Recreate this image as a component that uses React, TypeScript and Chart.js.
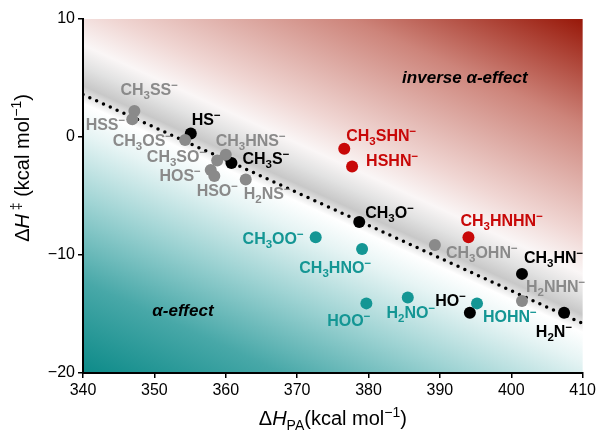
import React, { useEffect, useRef } from "react";
import { Chart, registerables } from "chart.js";

Chart.register(...registerables);

// ---------- data ----------
const xTickValues = [340, 350, 360, 370, 380, 390, 400, 410];
const yTickValues = [-20, -10, 0, 10];

const grayNames = ["CH3SS−", "HSS−", "CH3OS−", "CH3HNS−", "CH3SO−", "HOS−", "HSO−", "H2NS−", "CH3OHN−", "H2NHN−"];
const grayX = [347.2, 346.9, 354.3, 360.0, 358.8, 357.9, 358.4, 362.8, 389.3, 401.5];
const grayY = [2.2, 1.5, -0.25, -1.5, -2.0, -2.8, -3.3, -3.6, -9.15, -13.9];

const blackNames = ["HS−", "CH3S−", "CH3O−", "CH3HN−", "HO−", "H2N−"];
const blackX = [355.1, 360.8, 378.7, 401.5, 394.2, 407.4];
const blackY = [0.3, -2.2, -7.2, -11.6, -14.9, -14.9];

const redNames = ["CH3SHN−", "HSHN−", "CH3HNHN−"];
const redX = [376.6, 377.7, 394.0];
const redY = [-1.0, -2.5, -8.5];

const tealNames = ["CH3OO−", "CH3HNO−", "HOO−", "H2NO−", "HOHN−"];
const tealX = [372.6, 379.1, 379.7, 385.5, 395.2];
const tealY = [-8.5, -9.5, -14.1, -13.6, -14.1];

const fitX = [340, 410];
const fitY = [3.6, -15.8];

// ---------- label placement (pixel offsets from the point) ----------
const LABEL_POS: Record<string, [CanvasTextAlign, number, number]> = {
  "CH3SS−": ["left", -14, -21],
  "HSS−": ["right", -7, 6],
  "CH3OS−": ["right", -13, 1],
  "CH3HNS−": ["left", -10, -14],
  "CH3SO−": ["right", -11, -4],
  "HOS−": ["right", -10, 6],
  "HSO−": ["center", 3, 15],
  "H2NS−": ["left", -2, 15],
  "CH3OHN−": ["left", 11, 8],
  "H2NHN−": ["left", 4, -14],
  "HS−": ["left", 1, -13],
  "CH3S−": ["left", 11, -4],
  "CH3O−": ["left", 6, -9],
  "CH3HN−": ["left", 2, -16],
  "HO−": ["right", -4, -12],
  "H2N−": ["right", 8, 19],
  "CH3SHN−": ["left", 2, -13],
  "HSHN−": ["left", 14, -6],
  "CH3HNHN−": ["left", -8, -16],
  "CH3OO−": ["right", -12, 2],
  "CH3HNO−": ["right", 9, 19],
  "HOO−": ["right", 4, 18],
  "H2NO−": ["center", 3, 16],
  "HOHN−": ["left", 6, 14],
};

const FAMILY = '"Liberation Sans", Arial, Helvetica, sans-serif';
const GRAY = "rgb(138,138,138)";
const BLACK = "#000000";
const RED = "rgb(200,8,8)";
const TEAL = "rgb(20,150,148)";

type Seg = { t: string; font: string; dy: number };

function labelSegs(s: string): Seg[] {
  const segs: Seg[] = [];
  const main = `bold 16px ${FAMILY}`;
  const small = `bold 11.5px ${FAMILY}`;
  for (let i = 0; i < s.length; i++) {
    const ch = s[i];
    if (/[0-9]/.test(ch)) segs.push({ t: ch, font: small, dy: 4 });
    else if (ch === "−") segs.push({ t: ch, font: small, dy: -6 });
    else segs.push({ t: ch, font: main, dy: 0 });
  }
  return segs;
}

function drawSegs(ctx: CanvasRenderingContext2D, segs: Seg[], x: number, y: number, align: CanvasTextAlign) {
  let w = 0;
  for (const s of segs) {
    ctx.font = s.font;
    w += ctx.measureText(s.t).width;
  }
  let cx = x;
  if (align === "right") cx = x - w;
  else if (align === "center") cx = x - w / 2;
  ctx.textAlign = "left";
  ctx.textBaseline = "alphabetic";
  for (const s of segs) {
    ctx.font = s.font;
    ctx.fillText(s.t, cx, y + s.dy);
    cx += ctx.measureText(s.t).width;
  }
}

const bgPlugin = {
  id: "bgGradient",
  beforeDraw(chart: any) {
    const { ctx, chartArea, scales } = chart;
    const xs = scales.x, ys = scales.y;
    const p0 = { x: xs.getPixelForValue(fitX[0]), y: ys.getPixelForValue(fitY[0]) };
    const p1 = { x: xs.getPixelForValue(fitX[1]), y: ys.getPixelForValue(fitY[1]) };
    const dx = p1.x - p0.x, dy = p1.y - p0.y;
    const len = Math.hypot(dx, dy);
    const n = { x: dy / len, y: -dx / len }; // points up-right
    const dMin = -260, dMax = 280;
    const g = ctx.createLinearGradient(p0.x + n.x * dMin, p0.y + n.y * dMin, p0.x + n.x * dMax, p0.y + n.y * dMax);
    const stops: [number, string][] = [
      [-260, "rgb(8,136,134)"],
      [-170, "rgb(72,168,168)"],
      [-95, "rgb(160,212,212)"],
      [-35, "rgb(230,244,244)"],
      [-8, "rgb(255,255,255)"],
      [8, "rgb(200,200,200)"],
      [26, "rgb(226,226,226)"],
      [45, "rgb(250,246,246)"],
      [80, "rgb(240,214,211)"],
      [180, "rgb(205,132,122)"],
      [280, "rgb(150,20,5)"],
    ];
    for (const [d, c] of stops) g.addColorStop((d - dMin) / (dMax - dMin), c);
    ctx.save();
    ctx.fillStyle = g;
    ctx.fillRect(chartArea.left, chartArea.top, chartArea.right - chartArea.left, chartArea.bottom - chartArea.top);
    ctx.restore();
  },
};

const labelPlugin = {
  id: "pointLabels",
  afterDatasetsDraw(chart: any) {
    const { ctx, scales } = chart;
    ctx.save();
    chart.data.datasets.forEach((ds: any, di: number) => {
      if (!ds.names) return;
      const meta = chart.getDatasetMeta(di);
      ctx.fillStyle = ds.backgroundColor;
      meta.data.forEach((el: any, i: number) => {
        const name = ds.names[i];
        const pos = LABEL_POS[name] || ["left", 8, 0];
        drawSegs(ctx, labelSegs(name), el.x + pos[1], el.y + pos[2] + 5, pos[0]);
      });
    });
    // region annotations
    ctx.fillStyle = "#000";
    ctx.textAlign = "center";
    ctx.textBaseline = "middle";
    ctx.font = `italic bold 17px ${FAMILY}`;
    ctx.fillText("inverse α-effect", scales.x.getPixelForValue(393.5), scales.y.getPixelForValue(5.0));
    ctx.fillText("α-effect", scales.x.getPixelForValue(354.0), scales.y.getPixelForValue(-14.8));
    ctx.restore();
  },
};

const titlePlugin = {
  id: "axisTitles",
  afterDraw(chart: any) {
    const { ctx, chartArea } = chart;
    const reg = `20px ${FAMILY}`;
    const ital = `italic 20px ${FAMILY}`;
    const sm = `14px ${FAMILY}`;
    ctx.save();
    ctx.fillStyle = "#000";
    // x title
    const xs: Seg[] = [
      { t: "Δ", font: reg, dy: 0 },
      { t: "H", font: ital, dy: 0 },
      { t: "PA", font: sm, dy: 5 },
      { t: "(kcal mol", font: reg, dy: 0 },
      { t: "−1", font: sm, dy: -8 },
      { t: ")", font: reg, dy: 0 },
    ];
    drawSegs(ctx, xs, (chartArea.left + chartArea.right) / 2, 425, "center");
    // y title
    const ysg: Seg[] = [
      { t: "Δ", font: reg, dy: 0 },
      { t: "H", font: ital, dy: 0 },
      { t: " ‡", font: sm, dy: -8 },
      { t: " (kcal mol", font: reg, dy: 0 },
      { t: "−1", font: sm, dy: -8 },
      { t: ")", font: reg, dy: 0 },
    ];
    ctx.translate(29, 168);
    ctx.rotate(-Math.PI / 2);
    drawSegs(ctx, ysg, 0, 0, "center");
    ctx.restore();
  },
};

function mk(names: string[], xs: number[], ys: number[], color: string) {
  return {
    type: "scatter" as const,
    names,
    data: xs.map((x, i) => ({ x, y: ys[i] })),
    backgroundColor: color,
    borderColor: color,
    pointRadius: 6,
    pointHoverRadius: 6,
    borderWidth: 0,
    order: 1,
  };
}

export default function App() {
  const ref = useRef<HTMLCanvasElement | null>(null);
  useEffect(() => {
    if (!ref.current) return;
    const tickFont = { family: FAMILY, size: 16 };
    const chart = new Chart(ref.current, {
      type: "scatter",
      data: {
        datasets: [
          {
            type: "line",
            data: fitX.map((x, i) => ({ x, y: fitY[i] })),
            borderColor: "#000",
            borderWidth: 3.5,
            borderDash: [0, 7.5],
            borderCapStyle: "round",
            pointRadius: 0,
            fill: false,
            order: 10,
          } as any,
          mk(grayNames, grayX, grayY, GRAY) as any,
          mk(redNames, redX, redY, RED) as any,
          mk(tealNames, tealX, tealY, TEAL) as any,
          mk(blackNames, blackX, blackY, BLACK) as any,
        ],
      },
      options: {
        responsive: false,
        animation: false,
        devicePixelRatio: 1,
        layout: { padding: { left: 0, top: 19, right: 14, bottom: 0 } },
        plugins: { legend: { display: false }, tooltip: { enabled: false } },
        scales: {
          x: {
            type: "linear",
            min: 340,
            max: 410,
            afterBuildTicks: (s: any) => {
              s.ticks = xTickValues.map((v) => ({ value: v }));
            },
            afterFit: (s: any) => {
              s.height = 63;
            },
            ticks: { font: tickFont, color: "#000", padding: 3 },
            grid: { drawOnChartArea: false, drawTicks: true, tickLength: 5, color: "#000", lineWidth: 1.5 },
            border: { display: true, color: "#000", width: 2 },
          },
          y: {
            type: "linear",
            min: -20,
            max: 10,
            afterBuildTicks: (s: any) => {
              s.ticks = yTickValues.map((v) => ({ value: v }));
            },
            afterFit: (s: any) => {
              s.width = 83;
            },
            ticks: {
              font: tickFont,
              color: "#000",
              padding: 3,
              callback: (v: any) => String(v).replace("-", "−"),
            },
            grid: { drawOnChartArea: false, drawTicks: true, tickLength: 5, color: "#000", lineWidth: 1.5 },
            border: { display: true, color: "#000", width: 2 },
          },
        },
      } as any,
      plugins: [bgPlugin, labelPlugin, titlePlugin],
    });
    return () => chart.destroy();
  }, []);
  return (
    <div style={{ position: "fixed", left: 0, top: 0, width: 599, height: 436, background: "#fff" }}>
      <canvas ref={ref} width={599} height={436} style={{ display: "block" }} />
    </div>
  );
}
